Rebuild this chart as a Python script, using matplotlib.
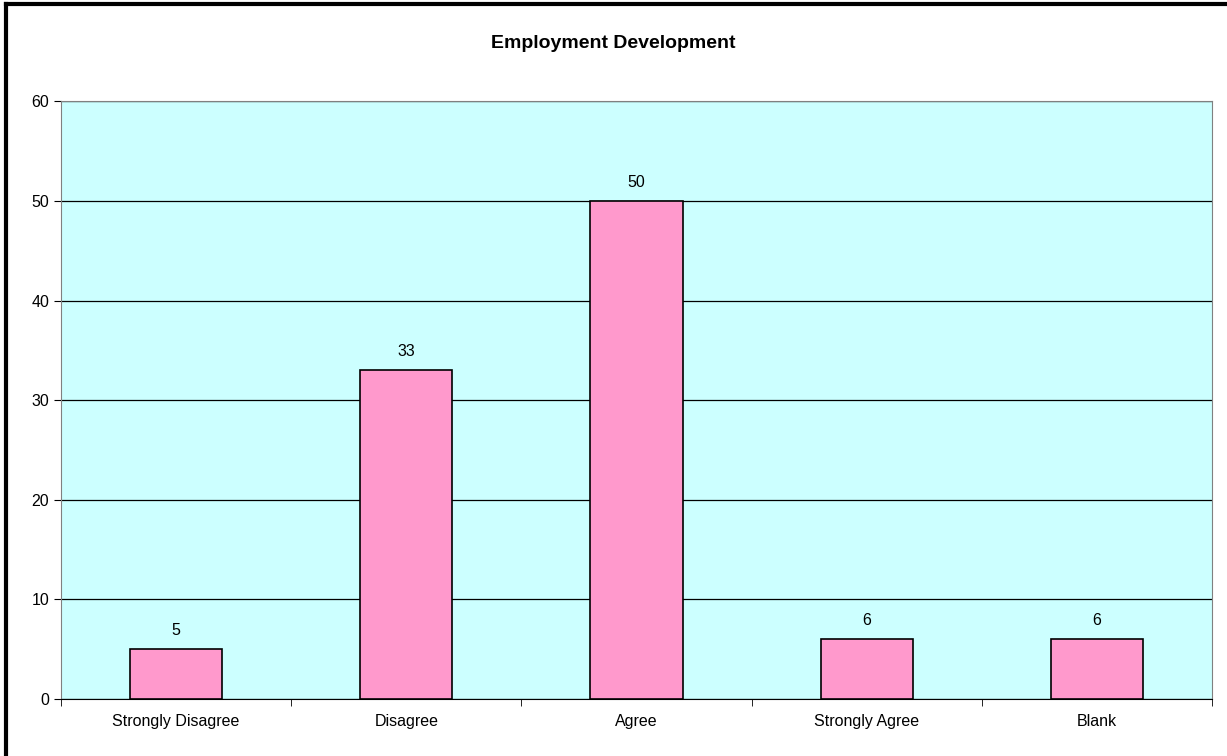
import matplotlib.pyplot as plt
from matplotlib.lines import Line2D
import numpy as np

plt.rcParams['font.family'] = ['Liberation Sans', 'DejaVu Sans']

categories = ['Strongly Disagree', 'Disagree', 'Agree', 'Strongly Agree', 'Blank']
values = [5, 33, 50, 6, 6]

fig = plt.figure(figsize=(12.27, 7.56), dpi=100)
ax = fig.add_axes([0.0497, 0.0754, 0.9381, 0.7906])
ax.set_facecolor('#CCFFFF')

x = np.arange(len(categories))
bars = ax.bar(x, values, width=0.4, color='#FF99CC', edgecolor='black', linewidth=1.2, zorder=3)
for xi, v in zip(x, values):
    ax.text(xi, v + 1.1, str(v), ha='center', va='bottom', fontsize=11.5)

ax.set_xlim(-0.5, len(categories) - 0.5)
ax.set_ylim(0, 60)
ax.set_yticks(range(0, 61, 10))
ax.yaxis.grid(True, color='black', linewidth=0.9, zorder=1)
ax.set_axisbelow(True)

# category ticks sit between the bars
ax.set_xticks(x)
ax.set_xticklabels(categories, fontsize=11.5)
ax.tick_params(axis='x', length=0, pad=11)
ax.set_xticks(np.arange(-0.5, len(categories)), minor=True)
ax.tick_params(axis='x', which='minor', length=5, direction='out', color='black')
ax.tick_params(axis='y', labelsize=11.5, length=5, color='black')

for s in ['top', 'right']:
    ax.spines[s].set_color('#808080')
ax.spines['left'].set_color('#808080')
ax.spines['bottom'].set_color('black')

fig.text(0.5, 0.943, 'Employment Development', ha='center', va='center',
         fontsize=14, fontweight='bold')

# outer chart border (left and top visible)
fig.add_artist(Line2D([0.0049, 0.0049], [0, 0.995], color='black', linewidth=3, transform=fig.transFigure))
fig.add_artist(Line2D([0.0049, 1], [0.995, 0.995], color='black', linewidth=3, transform=fig.transFigure))

fig.savefig('out.png', dpi=100)
